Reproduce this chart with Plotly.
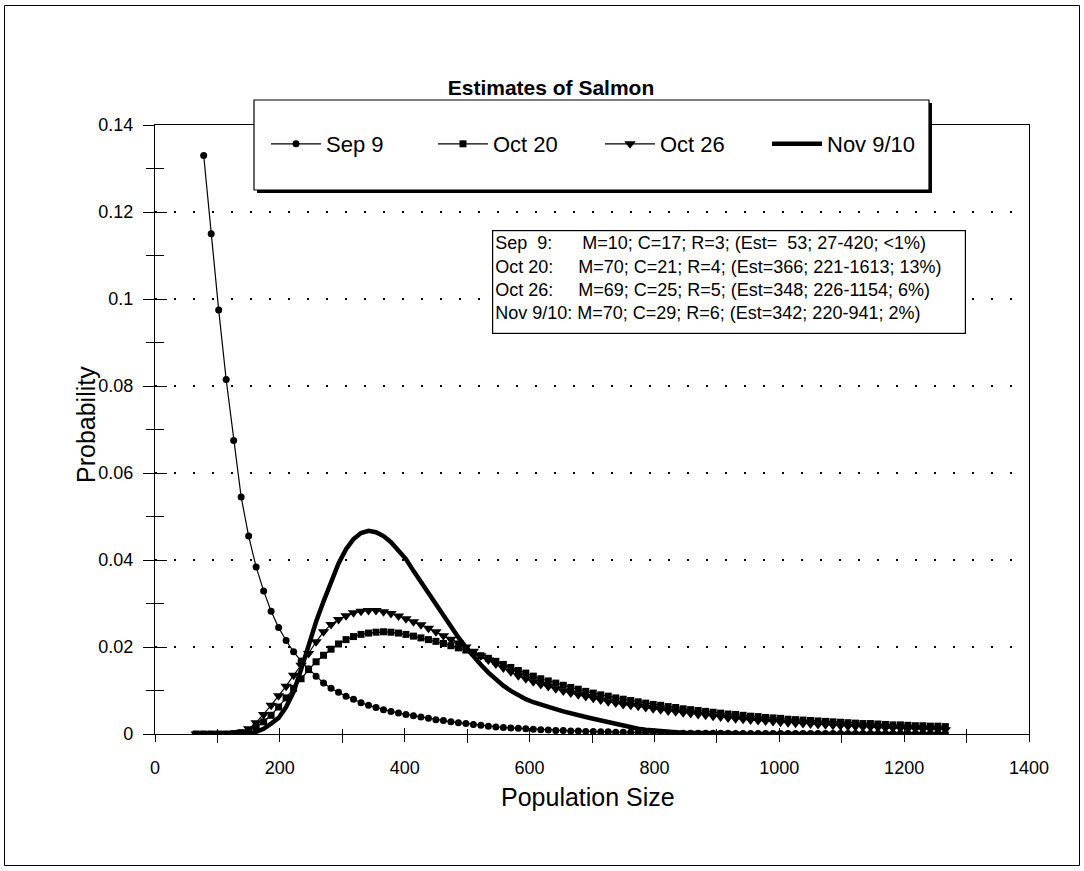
import plotly.graph_objects as go

# ---------------- data ----------------
population_size = [
    66, 78, 90, 102, 114, 126, 138, 150, 162, 174,
    186, 198, 210, 222, 234, 246, 258, 270, 282, 294,
    306, 318, 330, 342, 354, 366, 378, 390, 402, 414,
    426, 438, 450, 462, 474, 486, 498, 510, 522, 534,
    546, 558, 570, 582, 594, 606, 618, 630, 642, 654,
    666, 678, 690, 702, 714, 726, 738, 750, 762, 774,
    786, 798, 810, 822, 834, 846, 858, 870, 882, 894,
    906, 918, 930, 942, 954, 966, 978, 990, 1002, 1014,
    1026, 1038, 1050, 1062, 1074, 1086, 1098, 1110, 1122, 1134,
    1146, 1158, 1170, 1182, 1194, 1206, 1218, 1230, 1242, 1254,
    1266,
]

sep9 = [
    None, 0.133, 0.115, 0.0975, 0.0815, 0.0675, 0.0545, 0.0455, 0.0384, 0.0329,
    0.0282, 0.0245, 0.0215, 0.0189, 0.0168, 0.0150, 0.0133, 0.0117, 0.0105, 0.0096,
    0.0087, 0.0080, 0.0072, 0.0066, 0.0061, 0.0056, 0.0052, 0.0048, 0.0045, 0.0042,
    0.0039, 0.0036, 0.0033, 0.0031, 0.0028, 0.0026, 0.0024, 0.0022, 0.0020, 0.0018,
    0.0016, 0.0015, 0.0014, 0.0013, 0.0012, 0.0011, 0.0010, 0.0009, 0.0008, 0.0008,
    0.0007, 0.0007, 0.0006, 0.0006, 0.0005, 0.0005, 0.0004, 0.0004, 0.0004, 0.0003,
    0.0003, 0.0003, 0.0003, 0.0002, 0.0002, 0.0002, 0.0002, 0.0002, 0.0002, 0.0002,
    0.0002, 0.0002, 0.0001, 0.0001, 0.0001, 0.0001, 0.0001, 0.0001, 0.0001, 0.0001,
    0.0001, 0.0001, 0.0001, 0.0001, 0.0001, 0.0001, 0.0001, 0.0001, 0.0001, 0.0001,
    0.0001, 0.0001, 0.0001, 0.0001, 0.0001, 0.0001, 0.0001, 0.0001, 0.0001, 0.0001,
    0.0001,
]

oct20 = [
    0, 0, 0, 0, 0, 0.0001, 0.0003, 0.0008, 0.0016, 0.0028,
    0.0043, 0.0062, 0.0083, 0.0105, 0.0127, 0.0148, 0.0166, 0.0181, 0.0195, 0.0207,
    0.0217, 0.0224, 0.0229, 0.0232, 0.0234, 0.0235, 0.0234, 0.0232, 0.0229, 0.0225,
    0.0221, 0.0217, 0.0213, 0.0208, 0.0203, 0.0198, 0.0193, 0.0187, 0.0180, 0.0174,
    0.0167, 0.0160, 0.0153, 0.0146, 0.0140, 0.0133, 0.0127, 0.0122, 0.0117, 0.0112,
    0.0107, 0.0103, 0.0098, 0.0094, 0.0090, 0.0087, 0.0083, 0.0080, 0.0077, 0.0074,
    0.0071, 0.0068, 0.0066, 0.0063, 0.0061, 0.0058, 0.0056, 0.0054, 0.0052, 0.0050,
    0.0048, 0.0046, 0.0045, 0.0043, 0.0041, 0.0040, 0.0038, 0.0037, 0.0036, 0.0034,
    0.0033, 0.0032, 0.0031, 0.0030, 0.0029, 0.0028, 0.0027, 0.0026, 0.0025, 0.0024,
    0.0024, 0.0023, 0.0022, 0.0021, 0.0021, 0.0020, 0.0019, 0.0019, 0.0018, 0.0018,
    0.0017,
]

oct26 = [
    0, 0, 0, 0, 0, 0.0001, 0.0004, 0.0012, 0.0026, 0.0045,
    0.0066, 0.0088, 0.0110, 0.0135, 0.0158, 0.0185, 0.0212, 0.0235, 0.0252, 0.0263,
    0.0272, 0.0279, 0.0282, 0.0284, 0.0284, 0.0281, 0.0277, 0.0271, 0.0265, 0.0258,
    0.0251, 0.0243, 0.0235, 0.0226, 0.0218, 0.0209, 0.0200, 0.0190, 0.0180, 0.0170,
    0.0161, 0.0152, 0.0143, 0.0134, 0.0127, 0.0120, 0.0114, 0.0109, 0.0104, 0.0099,
    0.0094, 0.0090, 0.0086, 0.0082, 0.0078, 0.0074, 0.0071, 0.0068, 0.0066, 0.0064,
    0.0061, 0.0058, 0.0056, 0.0053, 0.0051, 0.0049, 0.0047, 0.0045, 0.0043, 0.0041,
    0.0039, 0.0037, 0.0035, 0.0034, 0.0032, 0.0031, 0.0030, 0.0029, 0.0027, 0.0026,
    0.0025, 0.0024, 0.0023, 0.0022, 0.0021, 0.0020, 0.0019, 0.0018, 0.0017, 0.0016,
    0.0016, 0.0015, 0.0014, 0.0014, 0.0013, 0.0012, 0.0012, 0.0011, 0.0011, 0.0010,
    0.0010,
]

nov910 = [
    0, 0, 0, 0, 0, 0, 0, 0.0001, 0.0005, 0.0012,
    0.0024, 0.0037, 0.0062, 0.0097, 0.0148, 0.0205, 0.0258, 0.0305, 0.0350, 0.0392,
    0.0425, 0.0448, 0.0462, 0.0467, 0.0464, 0.0455, 0.0441, 0.0423, 0.0402, 0.0375,
    0.0349, 0.0322, 0.0296, 0.0271, 0.0246, 0.0222, 0.0199, 0.0178, 0.0159, 0.0141,
    0.0125, 0.0111, 0.0099, 0.0089, 0.0080, 0.0073, 0.0067, 0.0062, 0.0057, 0.0052,
    0.0047, 0.0043, 0.0039, 0.0035, 0.0031, 0.0027, 0.0023, 0.0019, 0.0015, 0.0012,
    0.0010, 0.0008, 0.0006, 0.0005, 0.0004, 0.0003, 0.0003, 0.0002, 0.0002, 0.0001,
    0.0001, 0.0001, 0.0001, 0, 0, 0, 0, 0, 0, 0,
    0, 0, 0, 0, 0, 0, 0, 0, 0, 0,
    0, 0, 0, 0, 0, 0, 0, 0, 0, 0,
    0,
]

series_names = ["Sep 9", "Oct 20", "Oct 26", "Nov 9/10"]

x_tick_values = [0, 200, 400, 600, 800, 1000, 1200, 1400]
x_tick_labels = ["0", "200", "400", "600", "800", "1000", "1200", "1400"]
x_minor_ticks = [100, 300, 500, 700, 900, 1100, 1300]
y_tick_values = [0, 0.02, 0.04, 0.06, 0.08, 0.10, 0.12, 0.14]
y_tick_labels = ["0", "0.02", "0.04", "0.06", "0.08", "0.1", "0.12", "0.14"]
y_minor_ticks = [0.01, 0.03, 0.05, 0.07, 0.09, 0.11, 0.13]

title_text = "Estimates of Salmon"
x_title = "Population Size"
y_title = "Probability"
NB = "\u00a0"
info_lines = [
    "Sep" + NB * 2 + "9:" + NB * 6 + "M=10; C=17; R=3; (Est=" + NB * 2 + "53; 27-420; &lt;1%)",
    "Oct 20:" + NB * 5 + "M=70; C=21; R=4; (Est=366; 221-1613; 13%)",
    "Oct 26:" + NB * 5 + "M=69; C=25; R=5; (Est=348; 226-1154; 6%)",
    "Nov 9/10: M=70; C=29; R=6; (Est=342; 220-941; 2%)",
]

# ---------------- layout geometry (pixels of the 1084x871 page) ----------------
W, H = 1084, 871
PX0, PX1, PY0, PY1 = 155, 1029, 125, 734     # plot area: left, right, top, bottom
ML, MR, MT, MB = PX0, W - PX1, PY0, H - PY1
PW, PH = PX1 - PX0, PY1 - PY0


def px_x(p):
    return (p - ML) / PW


def px_y(p):
    return (H - MB - p) / PH


FONT = "Liberation Sans, Arial, sans-serif"

fig = go.Figure()

marker_styles = [
    dict(symbol="circle", size=7),
    dict(symbol="square", size=7),
    dict(symbol="triangle-down", size=10),
]
for name, values, ms in zip(series_names[:3], [sep9, oct20, oct26], marker_styles):
    fig.add_trace(go.Scatter(
        x=population_size, y=values, name=name, mode="lines+markers",
        line=dict(color="black", width=1.2),
        marker=dict(color="black", line=dict(width=0), **ms),
    ))
fig.add_trace(go.Scatter(
    x=population_size, y=nov910, name=series_names[3], mode="lines",
    line=dict(color="black", width=4.5),
))
# helper trace so the overlay axes (inside half of the crossing tick marks) are drawn
fig.add_trace(go.Scatter(x=[None], y=[None], xaxis="x2", yaxis="y2",
                         showlegend=False, hoverinfo="skip"))

axis_common = dict(showline=True, linecolor="black", linewidth=1.2, mirror=True,
                   zeroline=False, tickcolor="black", tickwidth=1.2,
                   tickfont=dict(family=FONT, size=18, color="black"))

fig.update_layout(
    width=W, height=H,
    margin=dict(l=ML, r=MR, t=MT, b=MB),
    paper_bgcolor="white", plot_bgcolor="white",
    title=dict(text="<b>" + title_text + "</b>", x=551 / W, y=1 - 88 / H,
               xanchor="center", yanchor="middle", xref="container", yref="container",
               font=dict(family=FONT, size=21, color="black")),
    xaxis=dict(range=[0, 1400], tickmode="array", tickvals=x_tick_values,
               ticktext=x_tick_labels, ticks="outside", ticklen=7,
               ticklabelstandoff=10, showgrid=False,
               minor=dict(tickvals=x_minor_ticks, ticks="outside", ticklen=8,
                          tickcolor="black", tickwidth=1.2, showgrid=False),
               **axis_common),
    yaxis=dict(range=[0, 0.14], tickmode="array", tickvals=y_tick_values,
               ticktext=y_tick_labels, ticks="outside", ticklen=11,
               ticklabelstandoff=6,
               showgrid=True, gridcolor="black", gridwidth=1.6, griddash="2px,17px",
               minor=dict(tickvals=y_minor_ticks, ticks="outside", ticklen=8,
                          tickcolor="black", tickwidth=1.2, showgrid=False),
               **axis_common),
    xaxis2=dict(overlaying="x", anchor="y", side="bottom", range=[0, 1400],
                tickmode="array", tickvals=x_tick_values, ticks="inside", ticklen=6,
                tickcolor="black", tickwidth=1.2, showticklabels=False, showgrid=False,
                showline=False, zeroline=False,
                minor=dict(tickvals=x_minor_ticks, ticks="inside", ticklen=5,
                           tickcolor="black", tickwidth=1.2, showgrid=False)),
    yaxis2=dict(overlaying="y", anchor="x", side="left", range=[0, 0.14],
                tickmode="array", tickvals=y_tick_values, ticks="inside", ticklen=12,
                tickcolor="black", tickwidth=1.2, showticklabels=False, showgrid=False,
                showline=False, zeroline=False,
                minor=dict(tickvals=y_minor_ticks, ticks="inside", ticklen=9,
                           tickcolor="black", tickwidth=1.2, showgrid=False)),
    legend=dict(orientation="h", x=px_x(266), y=px_y(144), xanchor="left",
                yanchor="middle", bgcolor="rgba(0,0,0,0)", borderwidth=0,
                font=dict(family=FONT, size=22, color="black"),
                itemwidth=50, entrywidth=102, entrywidthmode="pixels"),
    showlegend=True,
)

shapes = [
    # outer page frame
    dict(type="rect", xref="paper", yref="paper", x0=px_x(4.5), x1=px_x(1079.5),
         y0=px_y(865.5), y1=px_y(5.5), line=dict(color="black", width=1),
         fillcolor="rgba(0,0,0,0)", layer="above"),
    # legend shadow
    dict(type="rect", xref="paper", yref="paper", x0=px_x(257), x1=px_x(932),
         y0=px_y(193), y1=px_y(103), line=dict(width=0), fillcolor="black",
         layer="above"),
    # legend box
    dict(type="rect", xref="paper", yref="paper", x0=px_x(254), x1=px_x(929),
         y0=px_y(190), y1=px_y(100), line=dict(color="black", width=1.2),
         fillcolor="white", layer="above"),
]
fig.update_layout(shapes=shapes)

fig.add_annotation(
    text="<br>".join(info_lines), xref="paper", yref="paper",
    x=px_x(492), y=px_y(230), xanchor="left", yanchor="top",
    align="left", valign="top", showarrow=False,
    width=468, height=98, bgcolor="white", bordercolor="black",
    borderwidth=1.2, borderpad=2,
    font=dict(family=FONT, size=18, color="black"),
)
fig.add_annotation(
    text=y_title, xref="paper", yref="paper", x=px_x(86), y=px_y(425),
    textangle=-90, showarrow=False, xanchor="center", yanchor="middle",
    font=dict(family=FONT, size=25, color="black"),
)
fig.add_annotation(
    text=x_title, xref="paper", yref="paper", x=px_x(588), y=px_y(797),
    showarrow=False, xanchor="center", yanchor="middle",
    font=dict(family=FONT, size=25, color="black"),
)

fig.write_html("out.html",
               config={"displayModeBar": False},
               post_script="document.body.style.margin='0px';"
                           "document.body.style.overflow='hidden';")
